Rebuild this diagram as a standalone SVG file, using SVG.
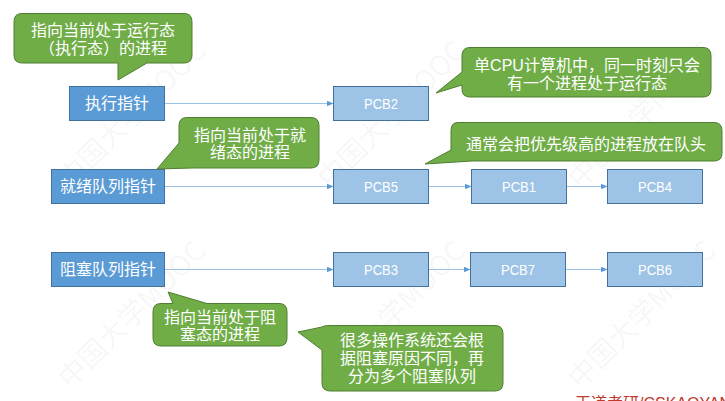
<svg xmlns="http://www.w3.org/2000/svg" width="725" height="401" viewBox="0 0 725 401">
<defs>
<style>
.ptr rect{fill:#5B9BD5;stroke:#41719C;stroke-width:1}
.pcb rect{fill:#9DC3E6;stroke:#41719C;stroke-width:1}
.bub path{fill:#70AD47;stroke:#507E32;stroke-width:1}
.t{font-family:"Liberation Sans","Noto Sans CJK SC",sans-serif;fill:#FFFFFF;text-anchor:middle}
.cj{font-size:16px}
.pc{font-size:15.5px}
.conn line{stroke:#9DC3E6;stroke-width:1.2;fill:none}
.wm{font-family:"Noto Sans CJK SC",sans-serif;font-size:28px;fill:#000000;fill-opacity:0.05}
</style>
<marker id="ah" markerWidth="7" markerHeight="6" refX="6.5" refY="3" orient="auto" markerUnits="userSpaceOnUse">
<path d="M0,0 L7,3 L0,6 Z" fill="#5B9BD5"/>
</marker>
</defs>
<rect width="725" height="401" fill="#FFFFFF"/>
<g id="watermarks">
<text class="wm" transform="translate(70,190) rotate(-45)">中国大学MOOC</text>
<text class="wm" transform="translate(330,190) rotate(-45)">中国大学MOOC</text>
<text class="wm" transform="translate(580,190) rotate(-45)">中国大学MOOC</text>
<text class="wm" transform="translate(70,390) rotate(-45)">中国大学MOOC</text>
<text class="wm" transform="translate(330,390) rotate(-45)">中国大学MOOC</text>
<text class="wm" transform="translate(580,390) rotate(-45)">中国大学MOOC</text>
</g>
<g id="connectors" class="conn">
<line x1="165" y1="103.5" x2="333" y2="103.5" marker-end="url(#ah)"/>
<line x1="165" y1="186.5" x2="333" y2="186.5" marker-end="url(#ah)"/>
<line x1="429" y1="186.5" x2="471" y2="186.5" marker-end="url(#ah)"/>
<line x1="566" y1="186.5" x2="607" y2="186.5" marker-end="url(#ah)"/>
<line x1="165" y1="269.5" x2="333" y2="269.5" marker-end="url(#ah)"/>
<line x1="429" y1="269.5" x2="470" y2="269.5" marker-end="url(#ah)"/>
<line x1="566" y1="269.5" x2="607" y2="269.5" marker-end="url(#ah)"/>
</g>
<g id="exec-ptr" class="ptr"><rect x="69.5" y="86.5" width="95" height="34"/><text class="t cj" fill="#FFFFFF" x="117" y="109">执行指针</text></g>
<g id="ready-ptr" class="ptr"><rect x="51.5" y="169.5" width="113" height="34"/><text class="t cj" fill="#FFFFFF" x="108" y="192">就绪队列指针</text></g>
<g id="block-ptr" class="ptr"><rect x="51.5" y="252.5" width="113" height="34"/><text class="t cj" fill="#FFFFFF" x="108" y="275">阻塞队列指针</text></g>
<g id="pcb2" class="pcb"><rect x="333.5" y="86.5" width="95" height="34"/><text class="t pc" x="381" y="109" textLength="34" lengthAdjust="spacingAndGlyphs">PCB2</text></g>
<g id="pcb5" class="pcb"><rect x="333.5" y="169.5" width="95" height="34"/><text class="t pc" x="381" y="192" textLength="34" lengthAdjust="spacingAndGlyphs">PCB5</text></g>
<g id="pcb1" class="pcb"><rect x="471.5" y="169.5" width="95" height="34"/><text class="t pc" x="519" y="192" textLength="34" lengthAdjust="spacingAndGlyphs">PCB1</text></g>
<g id="pcb4" class="pcb"><rect x="607.5" y="169.5" width="95" height="34"/><text class="t pc" x="655" y="192" textLength="34" lengthAdjust="spacingAndGlyphs">PCB4</text></g>
<g id="pcb3" class="pcb"><rect x="333.5" y="252.5" width="95" height="34"/><text class="t pc" x="381" y="275" textLength="34" lengthAdjust="spacingAndGlyphs">PCB3</text></g>
<g id="pcb7" class="pcb"><rect x="470.5" y="252.5" width="95" height="34"/><text class="t pc" x="518" y="275" textLength="34" lengthAdjust="spacingAndGlyphs">PCB7</text></g>
<g id="pcb6" class="pcb"><rect x="607.5" y="252.5" width="95" height="34"/><text class="t pc" x="655" y="275" textLength="34" lengthAdjust="spacingAndGlyphs">PCB6</text></g>
<g id="callout-exec" class="bub">
<path d="M22,13.5 H184 Q192,13.5 192,21.5 V55 Q192,63 184,63 H147 L118,80 L118,63 H22 Q14,63 14,55 V21.5 Q14,13.5 22,13.5 Z"/>
<text class="t cj" fill="#FFFFFF" x="103" y="36">指向当前处于运行态</text>
<text class="t cj" fill="#FFFFFF" x="103" y="54">（执行态）的进程</text>
</g>
<g id="callout-cpu" class="bub">
<path d="M470,47.5 H703 Q711,47.5 711,55.5 V89 Q711,97 703,97 H470 Q462,97 462,89 V85 L436,93 L462,72 V55.5 Q462,47.5 470,47.5 Z"/>
<text class="t cj" fill="#FFFFFF" x="587" y="71">单CPU计算机中，同一时刻只会</text>
<text class="t cj" fill="#FFFFFF" x="587" y="89">有一个进程处于运行态</text>
</g>
<g id="callout-head" class="bub">
<path d="M458,122.5 H714 Q722,122.5 722,130.5 V153 Q722,161 714,161 H472 L425,164 L451,150 V130.5 Q451,122.5 458,122.5 Z"/>
<text class="t cj" fill="#FFFFFF" x="586" y="150">通常会把优先级高的进程放在队头</text>
</g>
<g id="callout-ready" class="bub">
<path d="M187,117.5 H311 Q319,117.5 319,125.5 V160 Q319,168 311,168 H192 L157,169 L179,143 V125.5 Q179,117.5 187,117.5 Z"/>
<text class="t cj" fill="#FFFFFF" x="250" y="141">指向当前处于就</text>
<text class="t cj" fill="#FFFFFF" x="250" y="158">绪态的进程</text>
</g>
<g id="callout-block" class="bub">
<path d="M161,303.5 H173 L168,292 L207,303.5 H279 Q287,303.5 287,311.5 V338 Q287,346 279,346 H161 Q153,346 153,338 V311.5 Q153,303.5 161,303.5 Z"/>
<text class="t cj" fill="#FFFFFF" x="220" y="323">指向当前处于阻</text>
<text class="t cj" fill="#FFFFFF" x="220" y="340">塞态的进程</text>
</g>
<g id="callout-multi" class="bub">
<path d="M330,325.5 H495 Q503,325.5 503,333.5 V383 Q503,391 495,391 H330 Q322,391 322,383 V350 L298,332 L322,327 Q323,325.5 330,325.5 Z"/>
<text class="t cj" fill="#FFFFFF" x="412" y="346">很多操作系统还会根</text>
<text class="t cj" fill="#FFFFFF" x="412" y="364">据阻塞原因不同，再</text>
<text class="t cj" fill="#FFFFFF" x="412" y="382">分为多个阻塞队列</text>
</g>
<text x="575" y="409" style="font-family:'Liberation Sans','Noto Sans CJK SC',sans-serif;font-size:16px;fill:#C0392B">王道考研/CSKAOYAN.COM</text>
</svg>
